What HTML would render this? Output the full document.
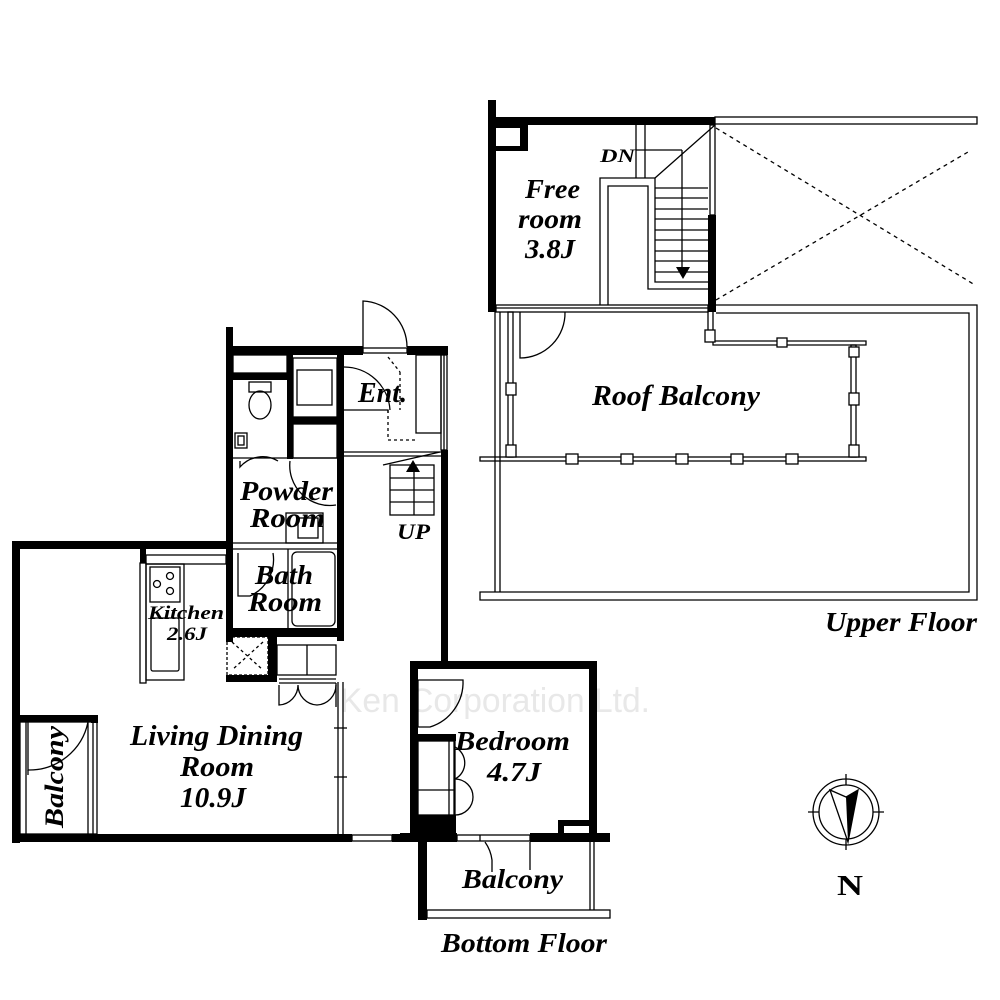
<!DOCTYPE html>
<html><head><meta charset="utf-8"><style>
html,body{margin:0;padding:0;background:#fff;}
svg{display:block;}
text{font-family:"Liberation Serif",serif;font-weight:bold;font-style:italic;fill:#000;}
</style></head><body>
<svg width="1000" height="1000" viewBox="0 0 1000 1000" xmlns="http://www.w3.org/2000/svg">
<rect width="1000" height="1000" fill="#fff"/>
<text x="340" y="712" font-size="34" textLength="310" lengthAdjust="spacingAndGlyphs" style="font-style:normal;font-weight:normal;fill:#e8e8e8;font-family:'Liberation Sans',sans-serif">Ken Corporation Ltd.</text>

<g fill="#000">
<rect x="226" y="327" width="7" height="315"/>
<rect x="226" y="346" width="137" height="9"/>
<rect x="407" y="346" width="41" height="9"/>
<rect x="287" y="355" width="6" height="104"/>
<rect x="233" y="373" width="54" height="7"/>
<rect x="293" y="417" width="44" height="7"/>
<rect x="337" y="355" width="7" height="286"/>
<rect x="441" y="450" width="7" height="215"/>
<rect x="226" y="628" width="118" height="9"/>
<rect x="268" y="628" width="9" height="54"/>
<rect x="226" y="675" width="51" height="7"/>
<rect x="12" y="541" width="221" height="8"/>
<rect x="12" y="541" width="8" height="302"/>
<rect x="140" y="549" width="6" height="14"/>
<rect x="12" y="834" width="340" height="8"/>
<rect x="392" y="834" width="20" height="8"/>
<rect x="12" y="715" width="86" height="7"/>
<rect x="91" y="715" width="7" height="8"/>
<rect x="410" y="661" width="187" height="8"/>
<rect x="410" y="661" width="8" height="181"/>
<rect x="589" y="661" width="8" height="181"/>
<rect x="400" y="833" width="57" height="9"/>
<rect x="530" y="833" width="80" height="9"/>
<rect x="416" y="815" width="40" height="27"/>
<rect x="416" y="734" width="40" height="7"/>
<rect x="418" y="842" width="9" height="78"/>
<rect x="558" y="820" width="31" height="6"/>
<rect x="558" y="820" width="6" height="14"/>
<rect x="488" y="100" width="8" height="212"/>
<rect x="488" y="117" width="227" height="8"/>
<rect x="708" y="215" width="8" height="97"/>
<rect x="496" y="125" width="32" height="3"/>
<rect x="520" y="125" width="8" height="26"/>
<rect x="496" y="146" width="32" height="5"/>
</g>

<g fill="none" stroke="#000" stroke-width="1.3">
<rect x="363" y="348" width="44" height="5"/>
<path d="M363 348 V301 A46 46 0 0 1 407 347"/>
<rect x="441" y="355" width="6" height="95"/>
<line x1="444" y1="355" x2="444" y2="450"/>
<line x1="344" y1="452" x2="441" y2="452"/>
<line x1="344" y1="456" x2="441" y2="456"/>
<rect x="416" y="355" width="25" height="78"/>
<path d="M344 367 A46 46 0 0 1 390 410 M344 410 H388 V413" />
<path d="M388 357 L400 372 M400 372 V410 M388 410 V440 H416" stroke-dasharray="3,3"/>
<rect x="233" y="355" width="54" height="18"/>
<rect x="249" y="382" width="22" height="10"/>
<ellipse cx="260" cy="405" rx="11" ry="14"/>
<rect x="235" y="433" width="12" height="15"/><rect x="238" y="436" width="6" height="9"/>
<rect x="297" y="370" width="35" height="35"/><rect x="293" y="358" width="44" height="59"/>
<rect x="293" y="424" width="44" height="34"/>
<line x1="233" y1="458" x2="337" y2="458"/>
<path d="M240 461 V467 A30 30 0 0 1 278 461 M290 461 A40 40 0 0 0 336 505"/>
<rect x="286" y="513" width="37" height="30"/><rect x="298" y="518" width="20" height="20"/>
<line x1="233" y1="543" x2="337" y2="543"/><line x1="233" y1="549" x2="337" y2="549"/>
<rect x="292" y="552" width="43" height="74" rx="5"/>
<line x1="288" y1="549" x2="288" y2="628"/>
<path d="M238 553 V596 H250 A40 40 0 0 0 273 553"/>
<rect x="390" y="465" width="44" height="50"/>
<line x1="390" y1="478" x2="434" y2="478"/><line x1="390" y1="490" x2="434" y2="490"/>
<line x1="390" y1="502" x2="434" y2="502"/><line x1="414" y1="465" x2="414" y2="515"/>
<line x1="383" y1="465" x2="440" y2="452"/>
<rect x="227" y="637" width="41" height="38" stroke-dasharray="3,2"/>
<path d="M232 642 L263 670 M263 642 L232 670" stroke-dasharray="3,3"/>
<rect x="277" y="645" width="59" height="30"/><line x1="307" y1="645" x2="307" y2="675"/>
<line x1="279" y1="679" x2="336" y2="679"/><line x1="279" y1="683" x2="336" y2="683"/>
<path d="M279 685 V705 A20 20 0 0 0 298 685 A20 20 0 0 0 317 705 A20 20 0 0 0 336 685"/>
<line x1="336" y1="683" x2="336" y2="707"/>
<rect x="146" y="555" width="80" height="9"/>
<rect x="146" y="564" width="38" height="116"/>
<rect x="150" y="567" width="30" height="35"/>
<circle cx="170" cy="576" r="3.5"/><circle cx="157" cy="584" r="3.5"/><circle cx="170" cy="591" r="3.5"/>
<rect x="151" y="618" width="28" height="53" rx="2"/>
<rect x="140" y="563" width="6" height="120"/>
<line x1="338" y1="682" x2="338" y2="834"/><line x1="343" y1="682" x2="343" y2="834"/>
<line x1="334" y1="728" x2="347" y2="728"/><line x1="334" y1="777" x2="347" y2="777"/>
<rect x="352" y="835" width="40" height="6"/>
<rect x="20" y="722" width="77" height="112"/>
<line x1="26" y1="722" x2="26" y2="834"/><line x1="88" y1="722" x2="88" y2="834"/><line x1="93" y1="722" x2="93" y2="834"/>
<path d="M28 722 V770 A60 60 0 0 0 88 722"/><line x1="28" y1="770" x2="28" y2="775"/>
<path d="M418 680 V727 H430 A47 47 0 0 0 463 680 Z"/>
<rect x="418" y="741" width="36" height="74"/><line x1="418" y1="790" x2="454" y2="790"/>
<line x1="449" y1="741" x2="449" y2="815"/><line x1="455" y1="741" x2="455" y2="815"/>
<path d="M455 747 A18 18 0 0 1 455 779 A18 18 0 0 1 455 815"/>
<rect x="457" y="835" width="73" height="6"/><line x1="480" y1="835" x2="480" y2="841"/>
<path d="M485 842 A40 40 0 0 1 492 860 V872 M530 842 V870"/>
<rect x="427" y="910" width="183" height="8"/>
<line x1="590" y1="842" x2="590" y2="910"/><line x1="594" y1="842" x2="594" y2="910"/>
<rect x="715" y="117" width="262" height="7"/>
<rect x="710" y="125" width="5" height="90"/>
<path d="M636 125 V178 M645 125 V178 M636 150 H682 M655 178 L715 125"/>
<path d="M600 305 V178 H655 V282 H708 M608 305 V186 H648 V289 H708"/>
<path d="M655 188 H708 M655 198 H708 M655 209 H708 M655 219 H708 M655 230 H708 M655 240 H708 M655 251 H708 M655 261 H708 M655 272 H708 M682 150 V272"/>
<rect x="496" y="305" width="212" height="7"/><line x1="496" y1="308" x2="708" y2="308"/>
<path d="M520 312 V358 A45 45 0 0 0 565 312"/>
<path d="M716 128 L975 285 M716 300 L968 152" stroke-dasharray="4,4"/>
<path d="M716 305 H977 V600 H480 V592 H969 V313 H716"/>
<line x1="495" y1="312" x2="495" y2="592"/><line x1="500" y1="312" x2="500" y2="592"/>
<rect x="480" y="457" width="386" height="4"/>
<path d="M708 312 V341 H866 V345 H713 V312"/>
<rect x="851" y="345" width="5" height="112"/>
<rect x="508" y="312" width="5" height="145"/>
<g fill="#fff">
<rect x="705" y="330" width="10" height="12"/><rect x="777" y="338" width="10" height="9"/>
<rect x="849" y="347" width="10" height="10"/><rect x="849" y="393" width="10" height="12"/><rect x="849" y="445" width="10" height="12"/>
<rect x="506" y="383" width="10" height="12"/><rect x="506" y="445" width="10" height="12"/>
<rect x="566" y="454" width="12" height="10"/><rect x="621" y="454" width="12" height="10"/><rect x="676" y="454" width="12" height="10"/><rect x="731" y="454" width="12" height="10"/><rect x="786" y="454" width="12" height="10"/>
</g>
<circle cx="846" cy="812" r="33"/><circle cx="846" cy="812" r="27"/>
<path d="M846 774 V785 M846 839 V850 M808 812 H819 M873 812 H884"/>
<path d="M830 790 L848 842 L858 790 L846 797 Z"/>
</g>
<path d="M858 790 L848 842 L846 797 Z" fill="#000"/>
<path d="M406 472 L420 472 L413 460 Z" fill="#000"/>
<path d="M676 267 L690 267 L683 279 Z" fill="#000"/>

<g>
<text x="358" y="402" font-size="28" textLength="49" lengthAdjust="spacingAndGlyphs">Ent.</text>
<text x="240" y="500" font-size="27" textLength="93" lengthAdjust="spacingAndGlyphs">Powder</text>
<text x="250" y="527" font-size="27" textLength="75" lengthAdjust="spacingAndGlyphs">Room</text>
<text x="255" y="584" font-size="27" textLength="58" lengthAdjust="spacingAndGlyphs">Bath</text>
<text x="248" y="611" font-size="27" textLength="74" lengthAdjust="spacingAndGlyphs">Room</text>
<text x="148" y="619" font-size="19" textLength="76" lengthAdjust="spacingAndGlyphs">Kitchen</text>
<text x="167" y="640" font-size="19" textLength="40" lengthAdjust="spacingAndGlyphs">2.6J</text>
<text x="130" y="745" font-size="29" textLength="173" lengthAdjust="spacingAndGlyphs">Living Dining</text>
<text x="180" y="776" font-size="29" textLength="74" lengthAdjust="spacingAndGlyphs">Room</text>
<text x="180" y="807" font-size="29" textLength="66" lengthAdjust="spacingAndGlyphs">10.9J</text>
<text x="0" y="0" font-size="26" textLength="102" lengthAdjust="spacingAndGlyphs" transform="translate(63 828) rotate(-90)">Balcony</text>
<text x="455" y="750" font-size="27" textLength="115" lengthAdjust="spacingAndGlyphs">Bedroom</text>
<text x="487" y="781" font-size="27" textLength="54" lengthAdjust="spacingAndGlyphs">4.7J</text>
<text x="462" y="888" font-size="27" textLength="101" lengthAdjust="spacingAndGlyphs">Balcony</text>
<text x="441" y="952" font-size="27" textLength="166" lengthAdjust="spacingAndGlyphs">Bottom Floor</text>
<text x="397" y="539" font-size="22" textLength="33" lengthAdjust="spacingAndGlyphs">UP</text>
<text x="525" y="198" font-size="27" textLength="55" lengthAdjust="spacingAndGlyphs">Free</text>
<text x="518" y="228" font-size="27" textLength="64" lengthAdjust="spacingAndGlyphs">room</text>
<text x="525" y="258" font-size="27" textLength="50" lengthAdjust="spacingAndGlyphs">3.8J</text>
<text x="600" y="162" font-size="19" textLength="35" lengthAdjust="spacingAndGlyphs">DN</text>
<text x="592" y="405" font-size="28" textLength="168" lengthAdjust="spacingAndGlyphs">Roof Balcony</text>
<text x="825" y="631" font-size="27" textLength="152" lengthAdjust="spacingAndGlyphs">Upper Floor</text>
<text x="837" y="895" font-size="29" textLength="26" lengthAdjust="spacingAndGlyphs" style="font-style:normal">N</text>
</g>
</svg>
</body></html>
